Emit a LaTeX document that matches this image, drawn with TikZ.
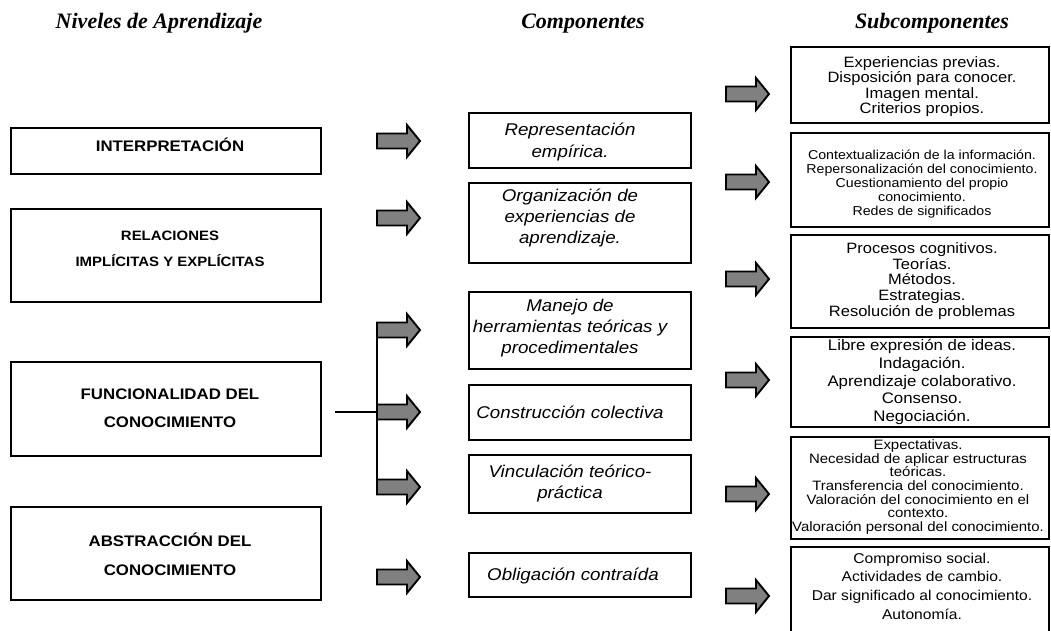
\documentclass[tikz,border=0pt]{standalone}
\usepackage{fontspec}
\setmainfont{Liberation Sans}[FakeStretch=1.1]
\newfontfamily\hdrfont{Liberation Serif}
\definecolor{arrowgray}{RGB}{128,128,128}
\tikzset{
  box/.style={draw=black, line width=1.3pt, inner sep=0pt, fill=white},
  lbox/.style={box, minimum width=310pt},
  cbox/.style={box, minimum width=222pt},
  sbox/.style={box, minimum width=258pt},
  txt/.style={inner sep=0pt, align=center},
  ltxt/.style={txt, font=\fontsize{15.3}{28}\selectfont\bfseries},
  ctxt/.style={txt, font=\fontsize{17}{21.3}\selectfont\itshape},
  hdr/.style={inner sep=0pt, anchor=base, font=\hdrfont\fontsize{22}{26}\selectfont\bfseries\itshape},
  barrow/.pic={\draw[line width=1.9pt, fill=arrowgray, line join=miter] (0,-7.5) -- (30,-7.5) -- (30,-16) -- (43,0) -- (30,16) -- (30,7.5) -- (0,7.5) -- cycle;},
  conn/.style={line width=1.8pt}
}
\begin{document}
\begin{tikzpicture}[x=1pt,y=-1pt]
\useasboundingbox (0,0) rectangle (1051,630);
\clip (0,0) rectangle (1051,630);

% headers
\node[hdr] (h1) at (159,28) {Niveles de Aprendizaje};
\node[hdr] (h2) at (583,28) {Componentes};
\node[hdr] (h3) at (932,28) {Subcomponentes};

% left boxes
\node[lbox, minimum height=46pt] (L1) at (166,151) {};
\node[lbox, minimum height=93pt] (L2) at (166,255.5) {};
\node[lbox, minimum height=94pt] (L3) at (166,409) {};
\node[lbox, minimum height=93pt] (L4) at (166,553.5) {};
\node[ltxt] (L1t) at (170,145) {INTERPRETACIÓN};
\node[ltxt, font=\fontsize{13.6}{26}\selectfont\bfseries] (L2t) at (170,248.5) {RELACIONES\\IMPLÍCITAS Y EXPLÍCITAS};
\node[ltxt] (L3t) at (170,408) {FUNCIONALIDAD DEL\\CONOCIMIENTO};
\node[ltxt, font=\fontsize{15.3}{29}\selectfont\bfseries] (L4t) at (170,554.5) {ABSTRACCIÓN DEL\\CONOCIMIENTO};

% component boxes
\node[cbox, minimum height=55pt] (C1) at (580,140.5) {};
\node[cbox, minimum height=80pt] (C2) at (580,223) {};
\node[cbox, minimum height=77pt] (C3) at (580,330.5) {};
\node[cbox, minimum height=55pt] (C4) at (580,412.5) {};
\node[cbox, minimum height=58pt] (C5) at (580,484) {};
\node[cbox, minimum height=44pt] (C6) at (580,575) {};
\node[ctxt] (C1t) at (570,142) {Representación\\empírica.};
\node[ctxt] (C2t) at (570,218) {Organización de\\experiencias de\\aprendizaje.};
\node[ctxt] (C3t) at (570,328) {Manejo de\\herramientas teóricas y\\procedimentales};
\node[ctxt] (C4t) at (570,412.3) {Construcción colectiva};
\node[ctxt] (C5t) at (570,483.5) {Vinculación teórico-\\práctica};
\node[ctxt] (C6t) at (573,575.5) {Obligación contraída};

% subcomponent boxes
\node[sbox, minimum height=76pt] (SA) at (920,85) {};
\node[sbox, minimum height=94pt] (SB) at (920,180) {};
\node[sbox, minimum height=93pt] (SC) at (920,281.5) {};
\node[sbox, minimum height=90pt] (SD) at (920,382) {};
\node[sbox, minimum height=102pt] (SE) at (920,488) {};
\node[sbox, minimum height=103pt] (SF) at (920,598.5) {};
\node[txt, font=\fontsize{15}{15.3}\selectfont] (SAt) at (922,86.5) {Experiencias previas.\\Disposición para conocer.\\Imagen mental.\\Criterios propios.};
\node[txt, font=\fontsize{12.9}{14}\selectfont] (SBt) at (922,184) {Contextualización de la información.\\Repersonalización del conocimiento.\\Cuestionamiento del propio\\conocimiento.\\Redes de significados};
\node[txt, font=\fontsize{15}{15.8}\selectfont] (SCt) at (922,281) {Procesos cognitivos.\\Teorías.\\Métodos.\\Estrategias.\\Resolución de problemas};
\node[txt, font=\fontsize{15.3}{17.7}\selectfont] (SDt) at (922,382) {Libre expresión de ideas.\\Indagación.\\Aprendizaje colaborativo.\\Consenso.\\Negociación.};
\node[txt, font=\fontsize{13.6}{13.6}\selectfont] (SEt) at (918,487) {Expectativas.\\Necesidad de aplicar estructuras\\teóricas.\\Transferencia del conocimiento.\\Valoración del conocimiento en el\\contexto.\\Valoración personal del conocimiento.};
\node[txt, font=\fontsize{14.2}{18.7}\selectfont] (SFt) at (922,586) {Compromiso social.\\Actividades de cambio.\\Dar significado al conocimiento.\\Autonomía.};

% branching connector
\coordinate (fout) at (335,412);
\coordinate (bus) at (377,412);
\coordinate (bustop) at (377,323);
\coordinate (busbot) at (377,495);
\draw[conn] (fout) -- (bus);
\draw[conn] (bustop) -- (busbot);

% block arrows, left column
\pic at (377,141) {barrow};
\pic at (377,218) {barrow};
\pic at (377,330) {barrow};
\pic at (377,412) {barrow};
\pic at (377,487) {barrow};
\pic at (377,577) {barrow};
% block arrows, right column
\pic at (726,94) {barrow};
\pic at (726,182) {barrow};
\pic at (726,279) {barrow};
\pic at (726,380) {barrow};
\pic at (726,494) {barrow};
\pic at (726,596) {barrow};
\end{tikzpicture}
\end{document}
